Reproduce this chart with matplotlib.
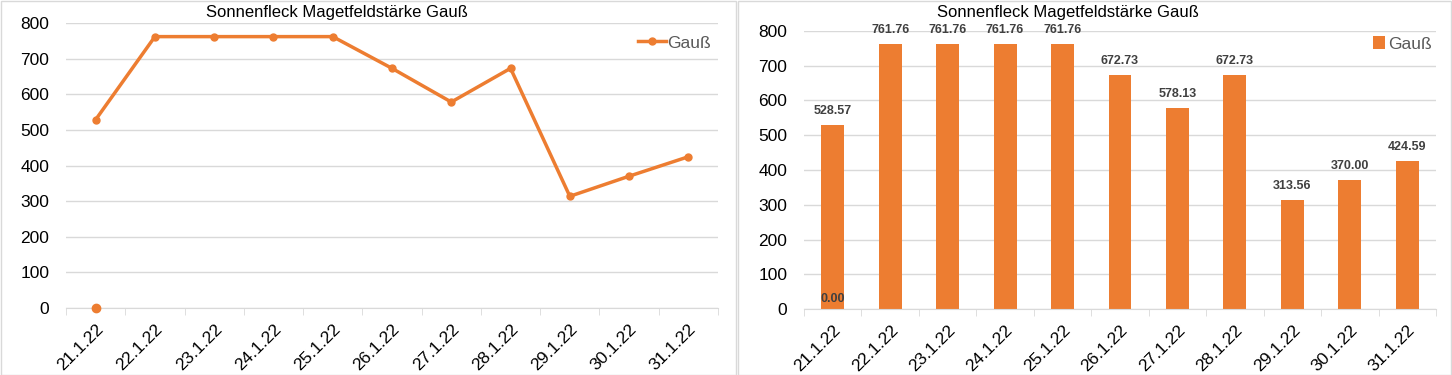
import matplotlib.pyplot as plt
import numpy as np
from matplotlib.patches import Rectangle

# Daten: Sonnenfleck Magnetfeldstaerke (Gauss) pro Tag
dates = ['21.1.22', '22.1.22', '23.1.22', '24.1.22', '25.1.22', '26.1.22',
         '27.1.22', '28.1.22', '29.1.22', '30.1.22', '31.1.22']
gauss = [528.57, 761.76, 761.76, 761.76, 761.76, 672.73,
         578.13, 672.73, 313.56, 370.00, 424.59]
# zusaetzlicher Messwert am 21.1.22 (Wert 0)
extra_date = '21.1.22'
extra_value = 0.00

title = 'Sonnenfleck Magetfeldstärke Gauß'
orange = '#ED7D31'
grid_c = '#d9d9d9'

plt.rcParams['font.family'] = ['Liberation Sans', 'DejaVu Sans']

fig = plt.figure(figsize=(14.52, 3.75), dpi=100)

# Rahmen der beiden Diagramme
fig.patches.append(Rectangle((0.0005, 0.0), 735 / 1452, 0.997,
                             transform=fig.transFigure, fill=False, edgecolor=grid_c, lw=1))
fig.patches.append(Rectangle((738 / 1452, 0.0), 713 / 1452, 0.997,
                             transform=fig.transFigure, fill=False, edgecolor=grid_c, lw=1))

x = np.arange(len(dates))
xe = dates.index(extra_date)


def style_axes(ax):
    ax.set_ylim(0, 800)
    ax.set_xlim(-0.5, len(dates) - 0.5)
    ax.set_yticks(range(0, 801, 100))
    ax.yaxis.grid(True, color=grid_c, lw=1)
    ax.set_axisbelow(True)
    for s in ['top', 'right', 'left']:
        ax.spines[s].set_visible(False)
    ax.spines['bottom'].set_color(grid_c)
    ax.tick_params(axis='y', length=0, labelsize=12.5, pad=12)
    ax.set_xticks(x)
    ax.set_xticklabels(dates, rotation=45, ha='right', rotation_mode='anchor', fontsize=12.5)
    ax.tick_params(axis='x', length=0, pad=10)
    # Teilstriche zwischen den Kategorien
    ax.set_xticks(np.arange(-0.5, len(dates), 1), minor=True)
    ax.tick_params(axis='x', which='minor', length=5, color=grid_c)


# linkes Diagramm: Linie
ax1 = fig.add_axes([66 / 1452, 67 / 375, 652 / 1452, 285 / 375])
style_axes(ax1)
ax1.plot(x, gauss, color=orange, lw=2.5, marker='o', ms=5, label='Gauß')
ax1.plot([xe], [extra_value], color=orange, marker='o', ms=6, mec=orange, mfc=orange,
         ls='none', clip_on=False, zorder=5)
ax1.legend(loc='center right', bbox_to_anchor=(1.0, 0.93), frameon=False,
           fontsize=12.5, labelcolor='#595959', handlelength=1.6, handletextpad=0.1,
           borderaxespad=0)
fig.text(337 / 1452, 1 - 12 / 375, title, ha='center', va='center', fontsize=12)

# rechtes Diagramm: Balken
ax2 = fig.add_axes([804 / 1452, 66 / 375, 632 / 1452, 278 / 375])
style_axes(ax2)
ax2.bar(x, gauss, width=0.4, color=orange, label='Gauß')
for xi, v in zip(x, gauss):
    ax2.annotate(f'{v:.2f}', (xi, v), xytext=(0, 6), textcoords='offset points',
                 ha='center', va='bottom', fontsize=9, fontweight='bold', color='#404040')
ax2.annotate(f'{extra_value:.2f}', (xe, extra_value), xytext=(0, 3), textcoords='offset points',
             ha='center', va='bottom', fontsize=9, fontweight='bold', color='#404040')
ax2.legend(loc='center right', bbox_to_anchor=(1.005, 0.953), frameon=False,
           fontsize=12.5, labelcolor='#595959', handlelength=0.7, handleheight=0.7,
           handletextpad=0.2, borderaxespad=0)
fig.text(1068 / 1452, 1 - 12 / 375, title, ha='center', va='center', fontsize=12)

fig.savefig('out.png', dpi=100)
